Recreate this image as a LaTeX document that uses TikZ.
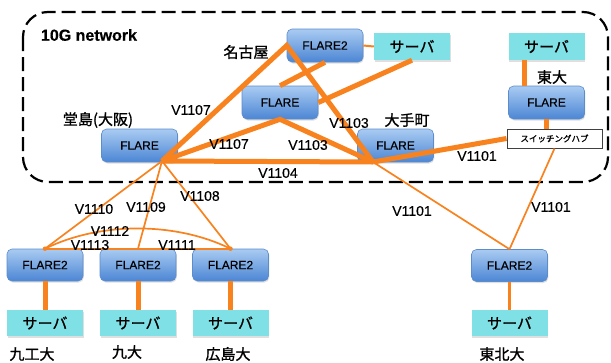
\documentclass[tikz,border=0pt]{standalone}
\usepackage{fontspec}
\setmainfont{Liberation Sans}[FakeBold=0.4]
\newfontfamily\jp{Noto Sans CJK JP}[FakeBold=1.2]
\usetikzlibrary{shadows}

\definecolor{flTop}{HTML}{A9CBF2}
\definecolor{flBot}{HTML}{4C86D4}
\definecolor{flEdge}{HTML}{5D8CCB}
\definecolor{srv}{HTML}{7FE1E5}
\definecolor{link}{HTML}{F7821E}

\tikzset{
  softshadow/.style={drop shadow={opacity=0.25, shadow xshift=0.8pt, shadow yshift=-1.5pt}},
  flare/.style={draw=flEdge, line width=0.6pt, rounded corners=5pt,
    top color=flTop, bottom color=flBot, minimum width=76pt, minimum height=33pt,
    inner sep=0pt, font=\fontsize{12}{14}\selectfont, softshadow},
  server/.style={fill=srv, minimum width=76pt, minimum height=27pt, inner sep=0pt,
    font=\jp\fontsize{15}{17}\selectfont, softshadow},
  swhub/.style={draw=black!75, line width=1pt, fill=white, minimum width=95pt,
    minimum height=19pt, inner sep=0pt, font=\jp\fontsize{8.5}{10}\selectfont},
  vlabel/.style={font=\fontsize{14}{16}\selectfont, inner sep=0pt},
  place/.style={font=\jp\fontsize{15}{17}\selectfont, inner sep=0pt},
  trunk/.style={draw=link, line width=5pt},
  branch/.style={draw=link, line width=1.7pt},
  joint/.style={circle, fill=link, inner sep=0pt, minimum size=4.5pt},
}

\begin{document}
\begin{tikzpicture}[x=1pt, y=-1pt]
  \useasboundingbox (0,0) rectangle (611,362);

  % 10G backbone area
  \draw[dash pattern=on 14pt off 6pt, line width=2.2pt, rounded corners=25pt]
    (23,12) rectangle (608,182);
  \node[font=\bfseries\fontsize{16}{18}\selectfont, inner sep=0pt] (title) at (89,35) {10G network};

  % backbone switches and servers
  \node[flare] (doj) at (139.5,145.5) {FLARE};
  \node[flare] (mid) at (280,102.5) {FLARE};
  \node[flare] (nag) at (325,45.5) {FLARE2};
  \node[server] (svN) at (412,46.5) {サーバ};
  \node[flare] (ote) at (395.5,145.5) {FLARE};
  \node[server] (svT) at (546.5,46.5) {サーバ};
  \node[flare] (tdi) at (546.5,102.5) {FLARE};
  \node[swhub] (hub) at (554.5,138.5) {スイッチングハブ};

  % edge sites
  \node[flare, minimum height=32pt] (k1) at (45,265) {FLARE2};
  \node[flare, minimum height=32pt] (k2) at (138,265) {FLARE2};
  \node[flare, minimum height=32pt] (k3) at (230.5,265) {FLARE2};
  \node[flare, minimum height=32pt] (t2) at (509.5,265.5) {FLARE2};
  \node[server, minimum height=26pt] (s1) at (45,323) {サーバ};
  \node[server, minimum height=26pt] (s2) at (138,323) {サーバ};
  \node[server, minimum height=26pt] (s3) at (230.5,323) {サーバ};
  \node[server, minimum height=26pt] (st) at (509.5,323) {サーバ};

  % site names
  \node[place] (lDoj) at (98,120) {堂島(大阪)};
  \node[place] (lNag) at (246,52) {名古屋};
  \node[place] (lOte) at (407,120) {大手町};
  \node[place] (lTdi) at (552,77) {東大};
  \node[place] (lK1) at (32,354) {九工大};
  \node[place] (lK2) at (127,352) {九大};
  \node[place] (lK3) at (228,354) {広島大};
  \node[place] (lTh) at (502,354) {東北大};

  % junction points of the links
  \coordinate (jD) at (162,161);
  \coordinate (jO) at (373,162);

  % 10G trunks
  \draw[trunk] (jD) -- (nag.west) -- (jO);
  \draw[trunk] (jD) -- (mid.south) -- (jO);
  \draw[trunk] (jD) -- (jO);
  \draw[trunk] (jO) -- (hub.west);
  \draw[trunk] (mid.north) -- (nag.south);
  \draw[trunk] (mid.east) -- (svN.south);
  \draw[branch, line width=2pt] (nag.east) -- (svN.west);
  \draw[trunk] ([xshift=-22pt]svT.south) -- ([xshift=-22pt]tdi.north);
  \draw[trunk] (tdi.south) -- (tdi.south |- hub.north);

  % branches to the edge sites
  \draw[branch] (jO) -- (t2.north);
  \draw[branch] (hub.south) -- (t2.north);
  \draw[branch, line width=2.2pt] (t2.south) -- (st.north);
  \draw[branch] (jD) -- (k1.north);
  \draw[branch] (jD) -- (k2.north);
  \draw[branch] (jD) -- (k3.north);
  \draw[branch] (k1.north) -- (k3.north);
  \draw[branch] (k1.north) .. controls +(55,-27) and +(-55,-27) .. (k3.north);
  \node[joint] (dk1) at (k1.north) {};
  \node[joint] (dk3) at (k3.north) {};
  \draw[trunk] (k1.south) -- (s1.north);
  \draw[trunk] (k2.south) -- (s2.north);
  \draw[trunk] (k3.south) -- (s3.north);

  % VLAN labels
  \node[vlabel] (v1107a) at (191,110) {V1107};
  \node[vlabel] (v1107b) at (229,144) {V1107};
  \node[vlabel] (v1103a) at (349,123) {V1103};
  \node[vlabel] (v1103b) at (308,145) {V1103};
  \node[vlabel] (v1104) at (278,173) {V1104};
  \node[vlabel] (v1101a) at (477,156) {V1101};
  \node[vlabel] (v1101b) at (412,211) {V1101};
  \node[vlabel] (v1101c) at (551,207) {V1101};
  \node[vlabel] (v1110) at (94,209) {V1110};
  \node[vlabel] (v1109) at (146,207) {V1109};
  \node[vlabel] (v1108) at (200,196) {V1108};
  \node[vlabel] (v1112) at (110,231) {V1112};
  \node[vlabel] (v1113) at (90,245) {V1113};
  \node[vlabel] (v1111) at (177,245) {V1111};
\end{tikzpicture}
\end{document}
